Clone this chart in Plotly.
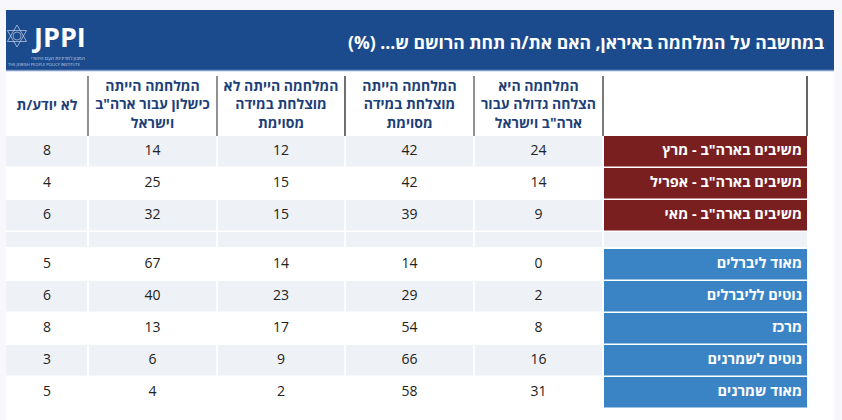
import plotly.graph_objects as go

# ---------------- data ----------------
title_text = 'במחשבה על המלחמה באיראן, האם את/ה תחת הרושם ש... (%)\u200F'
row_labels = ['משיבים בארה"ב - מרץ', 'משיבים בארה"ב - אפריל', 'משיבים בארה"ב - מאי', '',
              'מאוד ליברלים', 'נוטים לליברלים', 'מרכז', 'נוטים לשמרנים', 'מאוד שמרנים']
col_headers = ['המלחמה היא<br>הצלחה גדולה עבור<br>ארה"ב וישראל',
               'המלחמה הייתה<br>מוצלחת במידה<br>מסוימת',
               'המלחמה הייתה לא<br>מוצלחת במידה<br>מסוימת',
               'המלחמה הייתה<br>כישלון עבור ארה"ב<br>וישראל',
               'לא יודע/ת']
great_success = [24, 14, 9, None, 0, 2, 8, 16, 31]
some_success = [42, 42, 39, None, 14, 29, 54, 66, 58]
not_success = [12, 15, 15, None, 14, 23, 17, 9, 2]
failure = [14, 25, 32, None, 67, 40, 13, 6, 4]
dont_know = [8, 4, 6, None, 5, 6, 8, 3, 5]
row_group = ['us', 'us', 'us', 'gap', 'ideo', 'ideo', 'ideo', 'ideo', 'ideo']
shaded = [1, 0, 1, 1, 0, 1, 0, 1, 0]

value_cols = [great_success, some_success, not_success, failure, dont_know]

# ---------------- style / geometry ----------------
W, H = 842, 420
FONT = 'Open Sans, Liberation Sans, DejaVu Sans, sans-serif'
BG = '#f7f7fc'
NAVY = '#1b4a8d'
RED = '#7a1f20'
BLUE = '#3a84c6'
GRAY = '#eef1f6'
HDR_TXT = '#1d3f78'

# column edges from right (label col) to left
label_x = (603, 807)
col_edges = [(474, 603), (345, 474), (217, 345), (88, 217), (6, 88)]
table_top = 136
row_pitch, row_h = 32, 30.5
gap_pitch, gap_h = 17, 15

# row tops
row_tops, row_hs = [], []
y = table_top
for g in row_group:
    row_tops.append(y)
    if g == 'gap':
        row_hs.append(gap_h)
        y += gap_pitch
    else:
        row_hs.append(row_h)
        y += row_pitch

shapes = []
def rect(x0, y0, x1, y1, color, line=None):
    shapes.append(dict(type='rect', xref='x', yref='y', x0=x0, x1=x1, y0=y0, y1=y1,
                       fillcolor=color, line=dict(width=0) if line is None else line,
                       layer='below'))

# white panel
rect(6, 10, 834, 420, 'white')
# title band
rect(6, 10, 834, 70, NAVY)
shapes.append(dict(type='line', xref='x', yref='y', x0=6, x1=834, y0=70.5, y1=70.5,
                   line=dict(color='#7f9cc9', width=1.5)))

# header vertical separators
for xv, c in [(88, '#555555'), (217, '#555555'), (345, '#222222'), (474, '#555555'),
              (603, '#333333'), (807, '#111111')]:
    shapes.append(dict(type='line', xref='x', yref='y', x0=xv, x1=xv, y0=76, y1=136,
                       line=dict(color=c, width=1.3)))

# cells
for i, g in enumerate(row_group):
    t = row_tops[i]
    b = t + row_hs[i]
    if shaded[i]:
        for (x0, x1) in col_edges:
            rect(x0 + 1 if x0 > 6 else x0, t, x1 - 1, b, GRAY)
    lab_col = RED if g == 'us' else (BLUE if g == 'ideo' else GRAY)
    rect(label_x[0] + 1, t, label_x[1], b, lab_col)

# logo star (decorative)
cx, cy, r = 17, 36, 11
shapes.append(dict(type='path', xref='x', yref='y',
                   path=f'M {cx},{cy-r} L {cx+r*0.87},{cy+r*0.5} L {cx-r*0.87},{cy+r*0.5} Z',
                   line=dict(color='#b9c6de', width=0.8)))
shapes.append(dict(type='path', xref='x', yref='y',
                   path=f'M {cx},{cy+r} L {cx+r*0.87},{cy-r*0.5} L {cx-r*0.87},{cy-r*0.5} Z',
                   line=dict(color='#b9c6de', width=0.8)))
shapes.append(dict(type='circle', xref='x', yref='y', x0=cx-4, x1=cx+4, y0=cy-4, y1=cy+4,
                   line=dict(color='#b9c6de', width=0.7)))

fig = go.Figure()

# numbers
for j, vals in enumerate(value_cols):
    x0, x1 = col_edges[j]
    xs, ys, ts = [], [], []
    for i, v in enumerate(vals):
        if v is None:
            continue
        xs.append((x0 + x1) / 2)
        ys.append(row_tops[i] + row_hs[i] / 2 + 0.5)
        ts.append(str(v))
    fig.add_trace(go.Scatter(x=xs, y=ys, text=ts, mode='text', textposition='middle center',
                             textfont=dict(family=FONT, size=14, color='#222222'),
                             hoverinfo='skip', showlegend=False))

# row labels
lx, ly, lt = [], [], []
for i, lab in enumerate(row_labels):
    if lab:
        lx.append(label_x[1] - 5)
        ly.append(row_tops[i] + row_hs[i] / 2 + 0.5)
        lt.append('<b>' + lab + '</b>')
fig.add_trace(go.Scatter(x=lx, y=ly, text=lt, mode='text', textposition='middle left',
                         textfont=dict(family=FONT, size=14.5, color='white'),
                         hoverinfo='skip', showlegend=False))

# column headers
hx = [(a + b) / 2 for (a, b) in col_edges]
hy = [106] * len(col_edges)
fig.add_trace(go.Scatter(x=hx, y=hy, text=['<b>' + h + '</b>' for h in col_headers],
                         mode='text', textposition='middle center',
                         textfont=dict(family=FONT, size=14, color=HDR_TXT),
                         hoverinfo='skip', showlegend=False))

annotations = [
    dict(x=826, y=42, xref='x', yref='y', text='<b>' + title_text + '</b>', showarrow=False,
         xanchor='right', yanchor='middle', font=dict(family=FONT, size=17.5, color='white')),
    dict(x=30, y=36, xref='x', yref='y', text='<b>JPPI</b>', showarrow=False,
         xanchor='left', yanchor='middle', font=dict(family=FONT, size=27, color='white')),
    dict(x=87, y=57.5, xref='x', yref='y', text='המכון למדיניות העם היהודי', showarrow=False,
         xanchor='right', yanchor='middle', font=dict(family=FONT, size=5, color='#c9d3e6')),
    dict(x=6, y=64.5, xref='x', yref='y', text='THE JEWISH PEOPLE POLICY INSTITUTE', showarrow=False,
         xanchor='left', yanchor='middle', font=dict(family=FONT, size=4, color='#c9d3e6')),
]

fig.update_layout(
    width=W, height=H, margin=dict(l=0, r=0, t=0, b=0),
    paper_bgcolor=BG, plot_bgcolor=BG,
    xaxis=dict(range=[0, W], visible=False, fixedrange=True),
    yaxis=dict(range=[H, 0], visible=False, fixedrange=True),
    shapes=shapes, annotations=annotations,
)

fig.write_html('out.html', config={'displayModeBar': False},
               post_script="document.body.style.margin='0px';document.body.style.overflow='hidden';")
